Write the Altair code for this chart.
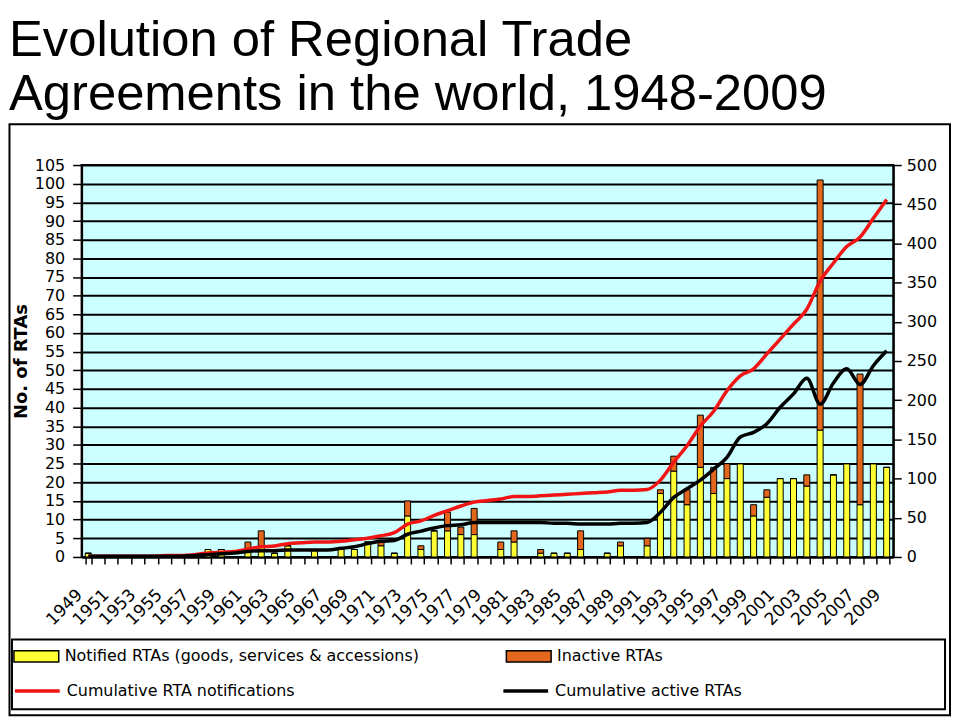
import altair as alt
import pandas as pd

years = [str(y) for y in range(1949, 2010)]

notified = [1, 0, 0, 0, 0, 0, 0, 0, 0, 2,
            2, 0, 2, 3, 1, 3, 0, 2, 0, 2,
            2, 4, 3, 1, 11, 2, 7, 7, 6, 6,
            0, 2, 4, 0, 1, 1, 1, 2, 0, 1,
            3, 0, 3, 17, 23, 14, 24, 17, 21, 25,
            11, 16, 21, 21, 19, 34, 22, 25, 14, 25,
            24]
inactive = [0, 0, 0, 0, 0, 0, 0, 0, 0, 0,
            0, 0, 2, 4, 0, 0, 0, 0, 0, 0,
            0, 0, 1, 0, 4, 1, 0, 5, 2, 7,
            0, 2, 3, 0, 1, 0, 0, 5, 0, 0,
            1, 0, 2, 1, 4, 4, 14, 7, 4, 0,
            3, 2, 0, 0, 3, 67, 0, 0, 35, 0,
            0]
cum_notified = [1, 1, 1, 1, 1, 1, 2, 2, 3, 5,
                6, 7, 10, 13, 14, 17, 18, 19, 19, 20,
                22, 24, 27, 31, 42, 46, 53, 59, 65, 70,
                72, 74, 77, 77, 78, 79, 80, 81, 82, 83,
                85, 85, 86, 98, 121, 142, 167, 186, 212, 231,
                240, 259, 278, 297, 316, 352, 375, 396, 408, 432,
                456]
cum_active = [1, 1, 1, 1, 1, 1, 1, 1, 2, 3,
              4, 5, 7, 8, 8, 9, 9, 9, 9, 11,
              13, 17, 20, 21, 29, 33, 37, 40, 41, 44,
              44, 44, 44, 44, 44, 43, 43, 42, 42, 42,
              43, 43, 44, 57, 76, 87, 98, 112, 127, 153,
              159, 170, 191, 208, 228, 195, 222, 240, 220, 244,
              263]

bar_names = ["Notified RTAs (goods, services & accessions)", "Inactive RTAs"]
bar_colors = ["#FFFF33", "#E3661D"]
line_names = ["Cumulative RTA notifications", "Cumulative active RTAs"]
line_colors = ["#F01414", "#000000"]

bar_rows = []
line_rows = []
for i, y in enumerate(years):
    bar_rows.append({"year": y, "bar_series": bar_names[0], "value": notified[i], "ord": 0})
    bar_rows.append({"year": y, "bar_series": bar_names[1], "value": inactive[i], "ord": 1})
    line_rows.append({"year": y, "line_series": line_names[0], "count": cum_notified[i]})
    line_rows.append({"year": y, "line_series": line_names[1], "count": cum_active[i]})
bars_df = pd.DataFrame(bar_rows)
lines_df = pd.DataFrame(line_rows)

FONT = "DejaVu Sans"

x_enc = alt.X(
    "year:O",
    sort=years,
    scale=alt.Scale(type="band", paddingInner=0.55, paddingOuter=0.275),
    axis=alt.Axis(
        title=None,
        labelExpr="toNumber(datum.value) % 2 == 1 ? datum.label : ''",
        labelAngle=315,
        labelAlign="right",
        labelBaseline="middle",
        labelPadding=28,
        labelOffset=-9,
        labelOverlap=False,
        labelFontSize=17,
        tickSize=7,
        tickWidth=1.5,
        tickBand="extent",
        grid=False,
    ),
)

bars = alt.Chart(bars_df).mark_bar(stroke="black", strokeWidth=1).encode(
    x=x_enc,
    y=alt.Y(
        "value:Q",
        stack="zero",
        scale=alt.Scale(domain=[0, 105], nice=False),
        axis=alt.Axis(
            orient="left",
            values=list(range(0, 106, 5)),
            title="No. of RTAs",
            titleFont=FONT,
            titleFontSize=18,
            titleFontWeight="bold",
            titleAngle=270,
            titleX=-60,
            titleY=197,
            titleAlign="center",
            titleBaseline="middle",
            tickSize=9,
            tickWidth=1.5,
            labelPadding=8,
            grid=True,
        ),
    ),
    fill=alt.Fill(
        "bar_series:N",
        scale=alt.Scale(domain=bar_names, range=bar_colors),
        legend=alt.Legend(
            title=None,
            orient="none",
            legendX=-69,
            legendY=470,
            direction="horizontal",
            columns=2,
            columnPadding=84,
            padding=0,
            symbolType="M-1,-0.25H1V0.25H-1Z",
            symbolSize=2025,
            symbolStrokeColor="black",
            symbolStrokeWidth=1.5,
            symbolOpacity=1,
            labelFont=FONT,
            labelFontSize=16,
            labelOffset=5,
            labelLimit=600,
            labelColor="black",
        ),
    ),
    order=alt.Order("ord:Q"),
)

lines = alt.Chart(lines_df).mark_line(strokeWidth=3.5, interpolate="monotone").encode(
    x=x_enc,
    y=alt.Y(
        "count:Q",
        scale=alt.Scale(domain=[0, 500], nice=False),
        axis=alt.Axis(
            orient="right",
            values=list(range(0, 501, 50)),
            title=None,
            grid=False,
            tickSize=8,
            tickWidth=1.5,
            labelPadding=5,
        ),
    ),
    stroke=alt.Stroke(
        "line_series:N",
        scale=alt.Scale(domain=line_names, range=line_colors),
        legend=alt.Legend(
            title=None,
            orient="none",
            legendX=-69,
            legendY=504,
            direction="horizontal",
            columns=2,
            columnPadding=202,
            padding=0,
            symbolType="stroke",
            symbolSize=2025,
            symbolStrokeWidth=3.5,
            labelFont=FONT,
            labelFontSize=16,
            labelOffset=5,
            labelLimit=600,
            labelColor="black",
        ),
    ),
)

one = alt.Data(values=[{"k": 1}])
outer_frame = alt.Chart(one).mark_rect(fillOpacity=0, stroke="black", strokeWidth=2).encode(
    x=alt.value(-72.5), x2=alt.value(873), y=alt.value(-41), y2=alt.value(553)
)
legend_box = alt.Chart(one).mark_rect(fillOpacity=0, stroke="black", strokeWidth=2).encode(
    x=alt.value(-70), x2=alt.value(868), y=alt.value(477), y2=alt.value(547)
)

chart = (
    alt.layer(bars, lines, outer_frame, legend_box)
    .resolve_scale(y="independent")
    .properties(
        width=816,
        height=394,
        padding={"left": 74, "top": 156, "right": 58, "bottom": 160},
        autosize=alt.AutoSizeParams(type="none"),
        background="white",
        title=alt.TitleParams(
            text=["Evolution of Regional Trade", "Agreements in the world, 1948-2009"],
            anchor="start",
            frame="group",
            font="Liberation Sans",
            fontSize=51,
            fontWeight="normal",
            lineHeight=55,
            dx=-73,
            offset=2,
            color="black",
        ),
    )
    .configure_view(fill="#CCFFFF", stroke="black", strokeWidth=2)
    .configure_axis(
        domainColor="black",
        domainWidth=2,
        tickColor="black",
        labelColor="black",
        labelFont=FONT,
        labelFontSize=16,
        gridColor="black",
        gridWidth=2,
        gridOpacity=1,
    )
)

chart.save("out.html", embed_options={"renderer": "svg", "actions": False})
